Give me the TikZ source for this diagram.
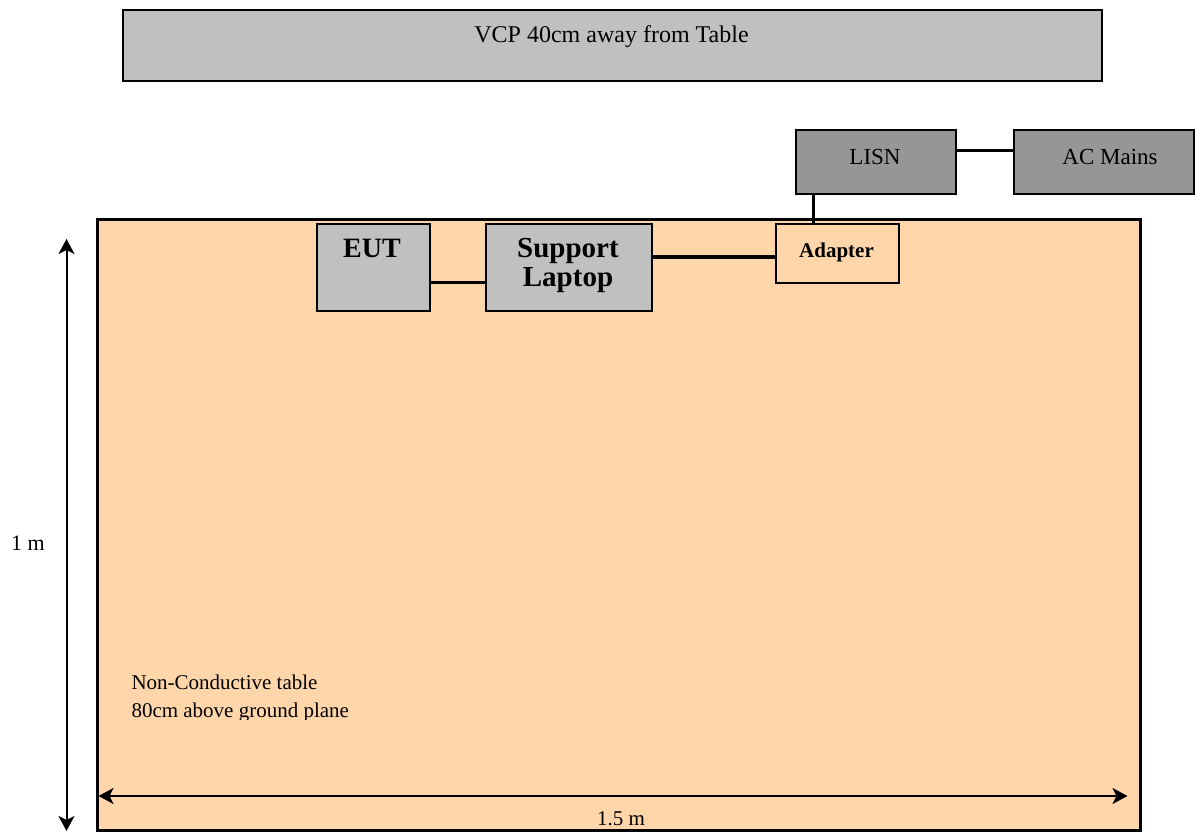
\documentclass[tikz,border=0pt]{standalone}
\usepackage{fontspec}
\setmainfont{Liberation Serif}
\usetikzlibrary{arrows.meta,calc}
\definecolor{peach}{RGB}{255,213,170}
\definecolor{lgray}{RGB}{192,192,192}
\definecolor{dgray}{RGB}{150,150,150}
\begin{document}
\begin{tikzpicture}[x=1pt,y=-1pt,
  box/.style={draw=black, inner sep=0pt, outer sep=0pt, anchor=north west},
  txt/.style={inner sep=0pt, outer sep=0pt, anchor=base},
  wire/.style={draw=black, line width=3pt},
  dim/.style={draw=black, line width=2pt, {Stealth[length=15pt,width=16pt,inset=4pt]}-{Stealth[length=15pt,width=16pt,inset=4pt]}}
]
\useasboundingbox (0,0) rectangle (1195,832);
% VCP
\node[box, fill=lgray, line width=2pt, minimum width=979pt, minimum height=71pt] (vcp) at (123,10.5) {};
\node[txt, font=\fontsize{24}{28}\selectfont] (vcptxt) at (611.5,43) {VCP 40cm away from Table};
% table
\node[box, fill=peach, line width=3pt, minimum width=1043pt, minimum height=611pt] (table) at (97,219.5) {};
% LISN and AC mains
\node[box, fill=dgray, line width=2pt, minimum width=160pt, minimum height=64pt] (lisn) at (796,130) {};
\node[txt, font=\fontsize{23}{28}\selectfont] (lisntxt) at (875,165) {LISN};
\node[box, fill=dgray, line width=2pt, minimum width=180pt, minimum height=64pt] (ac) at (1014,130) {};
\node[txt, font=\fontsize{23}{28}\selectfont] (actxt) at (1110,165) {AC Mains};
% EUT, laptop, adapter
\node[box, fill=lgray, line width=2pt, minimum width=113pt, minimum height=87pt] (eut) at (317,223.5) {};
\node[txt, font=\bfseries\fontsize{28}{30}\selectfont] (euttxt) at (372,257) {EUT};
\node[box, fill=lgray, line width=2pt, minimum width=166pt, minimum height=87pt] (laptop) at (485.5,223.5) {};
\node[txt, font=\bfseries\fontsize{29}{30}\selectfont] (sup1) at (568,257) {Support};
\node[txt, font=\bfseries\fontsize{29}{30}\selectfont] (sup2) at (568,286) {Laptop};
\node[box, fill=peach, line width=2pt, minimum width=122.5pt, minimum height=59pt] (adapter) at (776,223.5) {};
\node[txt, font=\bfseries\fontsize{21}{24}\selectfont] (adtxt) at (836.5,258) {Adapter};
% connectors
\coordinate (el) at ($(eut.east)+(0,15)$);
\draw[wire] (el) -- (el -| laptop.west);
\coordinate (la) at ($(laptop.east)+(0,-10)$);
\draw[wire, line width=4pt] (la) -- (la -| adapter.west);
\coordinate (lc) at ($(lisn.east)+(0,-11)$);
\draw[wire] (lc) -- (lc -| ac.west);
\coordinate (lv) at ($(lisn.south west)+(17.5,0)$);
\draw[wire] (lv) -- (lv |- adapter.north);
% table texts
\node[txt, anchor=base west, font=\fontsize{21}{28}\selectfont] (nc1) at (131.5,689) {Non-Conductive table};
\begin{scope}
\clip (100,690) rectangle (600,719.5);
\node[txt, anchor=base west, font=\fontsize{21}{28}\selectfont] (nc2) at (131.5,717) {80cm above ground plane};
\end{scope}
% dimensions
\coordinate (vtop) at (66.5,239);
\coordinate (vbot) at (66.5,831);
\draw[dim] (vtop) -- (vbot);
\node[txt, font=\fontsize{22}{24}\selectfont] (onem) at (28,550) {1 m};
\coordinate (hl) at (98.5,796);
\coordinate (hr) at (1127.5,796);
\draw[dim] (hl) -- (hr);
\node[txt, font=\fontsize{21}{24}\selectfont] (onefive) at (621,825) {1.5 m};
\end{tikzpicture}
\end{document}
